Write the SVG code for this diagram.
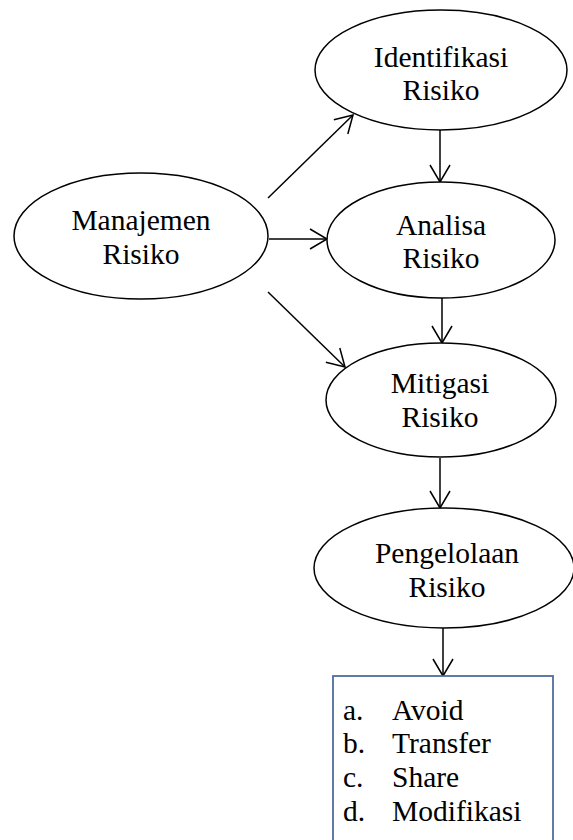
<svg xmlns="http://www.w3.org/2000/svg" width="573" height="840" viewBox="0 0 573 840">
<style>
.n{fill:#fff;stroke:#000;stroke-width:1.5}
.t{font-family:"Liberation Serif","Times New Roman",serif;font-size:29.5px;fill:#000;text-anchor:middle}
.l{font-family:"Liberation Serif","Times New Roman",serif;font-size:29.5px;fill:#000}
.c{stroke:#000;stroke-width:1.5;fill:none;marker-end:url(#ah)}
</style>
<defs>
<marker id="ah" markerUnits="userSpaceOnUse" markerWidth="24" markerHeight="24" viewBox="-20 -12 22 24" refX="0" refY="0" orient="auto">
<path d="M-17,-10 L0,0 L-17,10" fill="none" stroke="#000" stroke-width="1.5"/>
</marker>
</defs>
<rect width="573" height="840" fill="#fff"/>
<g id="connectors">
<line class="c" x1="268" y1="198" x2="353" y2="115"/>
<line class="c" x1="269" y1="239" x2="327" y2="239"/>
<line class="c" x1="268" y1="292" x2="345" y2="367"/>
<line class="c" x1="440" y1="130" x2="440" y2="182"/>
<line class="c" x1="442" y1="298" x2="442" y2="343"/>
<line class="c" x1="440" y1="458" x2="440" y2="508"/>
<line class="c" x1="443" y1="627" x2="443" y2="676"/>
</g>
<g id="manajemen">
<ellipse class="n" cx="141" cy="236" rx="127" ry="63"/>
<text class="t" x="141" y="230">Manajemen</text>
<text class="t" x="141" y="264">Risiko</text>
</g>
<g id="identifikasi">
<ellipse class="n" cx="441" cy="70" rx="126" ry="60"/>
<text class="t" x="441" y="67">Identifikasi</text>
<text class="t" x="441" y="100">Risiko</text>
</g>
<g id="analisa">
<ellipse class="n" cx="441" cy="240" rx="114" ry="58"/>
<text class="t" x="441" y="235">Analisa</text>
<text class="t" x="441" y="268">Risiko</text>
</g>
<g id="mitigasi">
<ellipse class="n" cx="441" cy="400" rx="115" ry="57"/>
<text class="t" x="440" y="393">Mitigasi</text>
<text class="t" x="440" y="427">Risiko</text>
</g>
<g id="pengelolaan">
<ellipse class="n" cx="444" cy="568" rx="130" ry="60"/>
<text class="t" x="447" y="563">Pengelolaan</text>
<text class="t" x="447" y="597">Risiko</text>
</g>
<g id="list">
<rect x="333" y="676" width="220" height="180" fill="#fff" stroke="#4f6d9e" stroke-width="1.8"/>
<text class="l" x="343" y="720">a.</text><text class="l" x="392" y="720">Avoid</text>
<text class="l" x="343" y="753">b.</text><text class="l" x="392" y="753">Transfer</text>
<text class="l" x="343" y="787">c.</text><text class="l" x="392" y="787">Share</text>
<text class="l" x="343" y="821">d.</text><text class="l" x="392" y="821">Modifikasi</text>
</g>
</svg>
